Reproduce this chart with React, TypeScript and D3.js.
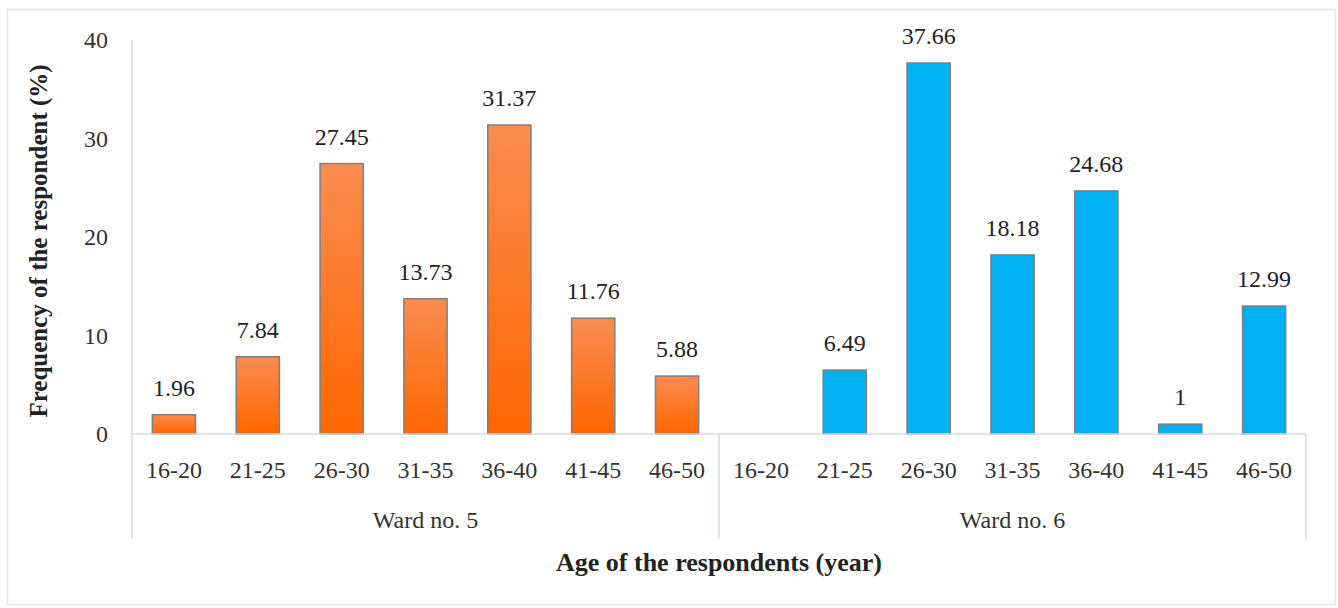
import React from 'react';
import * as d3 from 'd3';

const ageGroups = ['16-20', '21-25', '26-30', '31-35', '36-40', '41-45', '46-50'];
const wards = ['Ward no. 5', 'Ward no. 6'];
const ward5 = [1.96, 7.84, 27.45, 13.73, 31.37, 11.76, 5.88];
const ward6 = [null, 6.49, 37.66, 18.18, 24.68, 1, 12.99];
const yTicks = [0, 10, 20, 30, 40];

const W = 1338;
const H = 608;
const font = '"Liberation Serif", "DejaVu Serif", serif';

const App: React.FC = () => {
  const x0 = 132;
  const x1 = 1306;
  const yBase = 434;

  const rows = wards.flatMap((w, wi) =>
    ageGroups.map((a, i) => ({
      key: `${wi}-${a}`,
      ward: w,
      age: a,
      value: wi === 0 ? ward5[i] : ward6[i],
    }))
  );

  const x = d3.scaleBand().domain(rows.map((r) => r.key)).range([x0, x1]).paddingInner(0.485).paddingOuter(0.2425);
  const y = d3.scaleLinear().domain([0, 40]).range([yBase, 40]);
  const groupX = d3.scaleBand().domain(wards).range([x0, x1]);

  const axisColor = '#d6dce4';

  return (
    <svg width={W} height={H} style={{ position: 'absolute', left: 0, top: 0 }}>
      <defs>
        <linearGradient id="orangeGrad" x1="0" y1="0" x2="0" y2="1">
          <stop offset="0%" stopColor="#fa8c50" />
          <stop offset="100%" stopColor="#ff6600" />
        </linearGradient>
      </defs>
      <rect x={7.5} y={9.5} width={1328} height={595} fill="white" stroke="#e2e6ec" strokeWidth={1.5} />

      {/* y axis */}
      <line x1={x0} x2={x0} y1={y(40)} y2={yBase} stroke={axisColor} strokeWidth={1.5} />
      {yTicks.map((t) => (
        <text key={t} x={108} y={y(t)} dy="0.35em" textAnchor="end" fontFamily={font} fontSize={24} fill="#333">
          {t}
        </text>
      ))}
      <text
        transform={`translate(38, ${y(20) + 4}) rotate(-90)`}
        textAnchor="middle"
        dy="0.35em"
        fontFamily={font}
        fontWeight="bold"
        fontSize={25}
        fill="#222"
      >
        Frequency of the respondent (%)
      </text>

      {/* bars */}
      {rows.map((r) =>
        r.value == null ? null : (
          <g key={r.key}>
            <rect
              x={x(r.key)!}
              y={y(r.value)}
              width={x.bandwidth()}
              height={yBase - y(r.value)}
              fill={r.ward === wards[0] ? 'url(#orangeGrad)' : '#00b0f0'}
              stroke="#7f7f7f"
              strokeWidth={1.5}
            />
            <text
              x={x(r.key)! + x.bandwidth() / 2}
              y={y(r.value) - 19}
              textAnchor="middle"
              fontFamily={font}
              fontSize={24}
              fill="#222"
            >
              {r.value}
            </text>
          </g>
        )
      )}

      {/* x axis */}
      <line x1={x0} x2={x1} y1={yBase} y2={yBase} stroke={axisColor} strokeWidth={1.5} />
      {[x0, groupX(wards[1])!, x1].map((gx, i) => (
        <line key={i} x1={gx} x2={gx} y1={yBase} y2={539} stroke={axisColor} strokeWidth={1.5} />
      ))}
      {rows.map((r) => (
        <text
          key={r.key}
          x={x(r.key)! + x.bandwidth() / 2}
          y={470}
          dy="0.35em"
          textAnchor="middle"
          fontFamily={font}
          fontSize={24}
          fill="#333"
        >
          {r.age}
        </text>
      ))}
      {wards.map((w) => (
        <text
          key={w}
          x={groupX(w)! + groupX.bandwidth() / 2}
          y={520}
          dy="0.35em"
          textAnchor="middle"
          fontFamily={font}
          fontSize={24}
          fill="#333"
        >
          {w}
        </text>
      ))}
      <text
        x={(x0 + x1) / 2}
        y={562}
        dy="0.35em"
        textAnchor="middle"
        fontFamily={font}
        fontWeight="bold"
        fontSize={26}
        fill="#222"
      >
        Age of the respondents (year)
      </text>
    </svg>
  );
};

export default App;
